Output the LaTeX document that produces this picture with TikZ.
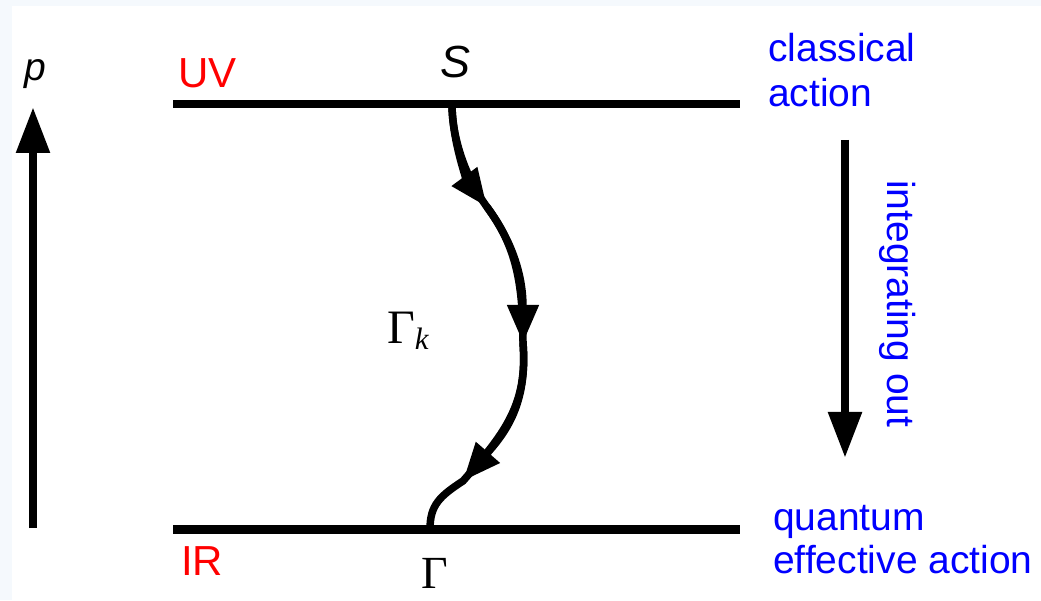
\documentclass[tikz,border=0pt]{standalone}
\usepackage{fontspec}
\setmainfont{Liberation Sans}
\newfontfamily\tms{Liberation Serif}
\usetikzlibrary{arrows.meta}
\definecolor{frame}{RGB}{245,249,253}
\definecolor{lblue}{RGB}{0,0,255}
\definecolor{lred}{RGB}{255,0,0}
\tikzset{
  level/.style={line width=8.5pt},
  axisarrow/.style={line width=8.5pt,-{Triangle[length=46pt,width=32pt]}},
  flow/.style={line width=7.5pt,line cap=round,line join=round},
  flowtip/.style={flow,-{Triangle[length=38pt,width=30pt]}},
  bluelab/.style={inner sep=0pt,text=lblue,font=\fontsize{39}{45}\selectfont},
  redlab/.style={inner sep=0pt,text=lred,font=\fontsize{42}{46}\selectfont},
}
\begin{document}
\begin{tikzpicture}[x=1pt,y=1pt]
\useasboundingbox (0,0) rectangle (1041,600);
\fill[frame] (0,0) rectangle (1041,600);
\fill[white] (12,0) rectangle (1041,594);
% levels
\coordinate (UVl) at (173,496);
\coordinate (UVr) at (740,496);
\coordinate (IRl) at (173,70.5);
\coordinate (IRr) at (740,70.5);
\draw[level] (UVl) -- (UVr);
\draw[level] (IRl) -- (IRr);
% p axis
\coordinate (pb) at (33,72);
\coordinate (pt) at (33,493);
\draw[axisarrow] (pb) -- (pt);
\node[inner sep=0pt,anchor=base,font=\fontsize{39}{40}\selectfont\itshape] (p) at (35,519) {p};
% integrating out arrow
\coordinate (it) at (845,460);
\coordinate (ib) at (845,142);
\draw[axisarrow] (it) -- (ib);
\node[bluelab,rotate=-90,anchor=base west] (intout) at (887,420) {integrating out};
% labels
\node[redlab,anchor=base west] (UV) at (178,512) {UV};
\node[redlab,anchor=base west] (IR) at (181,25) {IR};
\node[bluelab,anchor=base west] (cl1) at (768,538) {classical};
\node[bluelab,anchor=base west] (cl2) at (768,493) {action};
\node[bluelab,anchor=base west] (qu1) at (773,70) {quantum};
\node[bluelab,anchor=base west] (qu2) at (773,27) {effective action};
\node[inner sep=0pt,anchor=base,font=\fontsize{45}{48}\selectfont\itshape] (S) at (456,522) {S};
\node[inner sep=0pt,anchor=base west] (Gk) at (387,256) {\tms\fontsize{48}{52}\selectfont Γ\raisebox{-6pt}{\fontsize{31}{31}\selectfont\itshape k}};
\node[inner sep=0pt,anchor=base] (G) at (435,12) {\tms\fontsize{46}{50}\selectfont Γ};
% flow curve
\coordinate (S0) at (452,496);
\coordinate (T1) at (487,393);
\coordinate (T2) at (523,257);
\coordinate (T3) at (463,119);
\coordinate (G0) at (430,71);
\draw[flow] (S0) .. controls (452,460) and (467,420) .. (T1)
  .. controls (515,355) and (523,320) .. (T2)
  .. controls (528,195) and (504,166) .. (T3)
  .. controls (440,104) and (430,95) .. (G0);
\draw[flowtip] (S0) .. controls (452,460) and (467,420) .. (T1);
\draw[flowtip] (T1) .. controls (515,355) and (523,320) .. (T2);
\draw[flowtip] (T2) .. controls (528,195) and (504,166) .. (T3);
\end{tikzpicture}
\end{document}
